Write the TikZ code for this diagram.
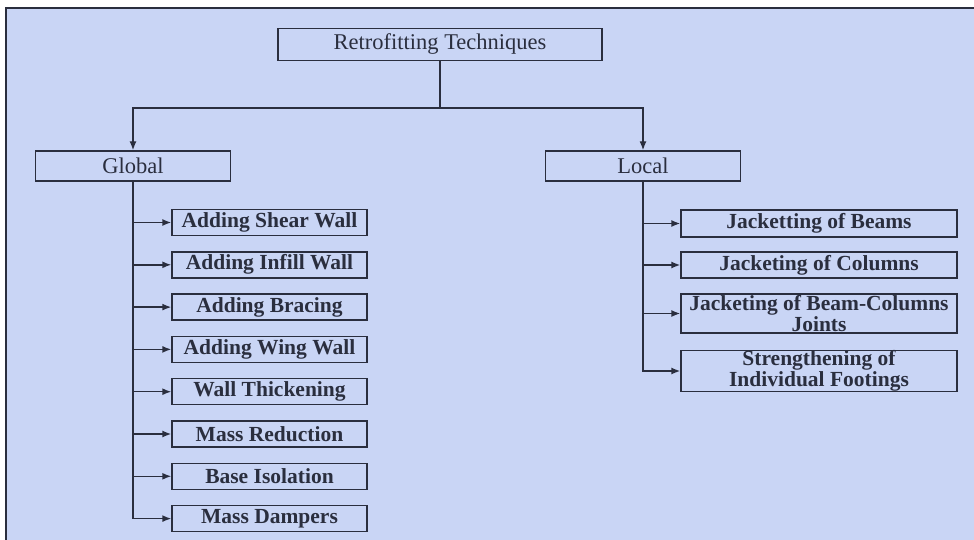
\documentclass[tikz,border=0pt]{standalone}
\usepackage{fontspec}
\setmainfont{Liberation Serif}
\usetikzlibrary{arrows.meta}

\definecolor{paper}{RGB}{201,213,245}
\definecolor{ink}{RGB}{42,46,62}

\tikzset{
  headbox/.style={draw=ink, line width=1.4pt, fill=paper, text=ink, inner sep=0pt,
    font=\fontsize{22.5}{21}\selectfont},
  techbox/.style={draw=ink, line width=1.4pt, fill=paper, text=ink, inner sep=0pt,
    align=center, font=\fontsize{21.5}{19.5}\selectfont\bfseries},
  link/.style={draw=ink, line width=1.4pt},
  pointer/.style={link, -{Latex[length=9pt,width=7pt]}}
}

\begin{document}
\begin{tikzpicture}[x=1pt,y=-1pt]

\useasboundingbox (0,0) rectangle (974,540);
\fill[white] (0,0) rectangle (974,540);
\fill[paper] (6,8) rectangle (974,540);
\draw[link] (6,540) -- (6,8) -- (974,8);

  \node[headbox, minimum width=324pt, minimum height=32pt] (root) at (440,44.5) {Retrofitting Techniques};
  \node[headbox, minimum width=195pt, minimum height=30pt] (glob) at (133,166) {Global};
  \node[headbox, minimum width=195pt, minimum height=30pt] (loc) at (643,166) {Local};
  \coordinate (split) at (440,108);

  \node[techbox, minimum width=195pt, minimum height=26pt] (g1) at (269.5,222.5) {Adding Shear Wall};
  \node[techbox, minimum width=195pt, minimum height=26pt] (g2) at (269.5,264.8) {Adding Infill Wall};
  \node[techbox, minimum width=195pt, minimum height=26pt] (g3) at (269.5,307.1) {Adding Bracing};
  \node[techbox, minimum width=195pt, minimum height=26pt] (g4) at (269.5,349.4) {Adding Wing Wall};
  \node[techbox, minimum width=195pt, minimum height=26pt] (g5) at (269.5,391.7) {Wall Thickening};
  \node[techbox, minimum width=195pt, minimum height=26pt] (g6) at (269.5,434) {Mass Reduction};
  \node[techbox, minimum width=195pt, minimum height=26pt] (g7) at (269.5,476.3) {Base Isolation};
  \node[techbox, minimum width=195pt, minimum height=26pt] (g8) at (269.5,518.6) {Mass Dampers};

  \node[techbox, minimum width=276pt, minimum height=27pt] (l1) at (819,223.5) {Jacketting of Beams};
  \node[techbox, minimum width=276pt, minimum height=26pt] (l2) at (819,265) {Jacketing of Columns};
  \node[techbox, minimum width=276pt, minimum height=39pt] (l3) at (819,313.5) {Jacketing of Beam-Columns\\Joints};
  \node[techbox, minimum width=276pt, minimum height=40pt] (l4) at (819,371) {Strengthening of\\Individual Footings};

  \draw[link] (root) -- (split);
  \draw[pointer] (split) -| (glob);
  \draw[pointer] (split) -| (loc);

  \draw[pointer] (glob.south) |- (g1.west);
  \draw[pointer] (glob.south) |- (g2.west);
  \draw[pointer] (glob.south) |- (g3.west);
  \draw[pointer] (glob.south) |- (g4.west);
  \draw[pointer] (glob.south) |- (g5.west);
  \draw[pointer] (glob.south) |- (g6.west);
  \draw[pointer] (glob.south) |- (g7.west);
  \draw[pointer] (glob.south) |- (g8.west);

  \draw[pointer] (loc.south) |- (l1.west);
  \draw[pointer] (loc.south) |- (l2.west);
  \draw[pointer] (loc.south) |- (l3.west);
  \draw[pointer] (loc.south) |- (l4.west);
 \end{tikzpicture}
\end{document}
